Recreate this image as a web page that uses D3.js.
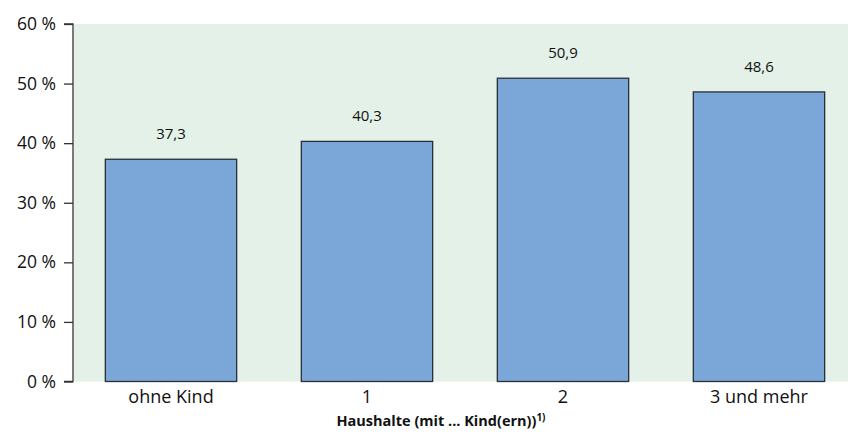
<!DOCTYPE html>
<html><head><meta charset="utf-8">
<script src="https://cdn.jsdelivr.net/npm/d3@7"></script>
<style>body{margin:0;background:#fff}svg{display:block;font-family:"Open Sans",sans-serif}</style>
</head><body>
<svg id="c" width="848" height="437"></svg>
<script>
const categories = ["ohne Kind", "1", "2", "3 und mehr"];
const values = [37.3, 40.3, 50.9, 48.6];
const yTicks = [0, 10, 20, 30, 40, 50, 60];
const valueLabels = ["37,3", "40,3", "50,9", "48,6"];

const svg = d3.select("#c");
const mLeft = 73, mTop = 24, mBottom = 381.5, mRight = 848;
const x = d3.scaleBand().domain(categories).range([73, 857]).paddingInner(0.33).paddingOuter(0.165);
const y = d3.scaleLinear().domain([0, 60]).range([mBottom, mTop]);

svg.append("rect").attr("x", mLeft + 1).attr("y", mTop).attr("width", mRight - mLeft - 1).attr("height", mBottom - mTop).attr("fill", "#e4f1e8");

svg.selectAll("rect.bar").data(values).enter().append("rect").attr("class", "bar")
  .attr("x", (d, i) => x(categories[i])).attr("width", x.bandwidth())
  .attr("y", d => y(d)).attr("height", d => y(0) - y(d))
  .attr("fill", "#7ba7d8").attr("stroke", "#2b2f36").attr("stroke-width", 1.3);

svg.selectAll("text.val").data(values).enter().append("text").attr("class", "val")
  .attr("x", (d, i) => x(categories[i]) + x.bandwidth() / 2).attr("y", d => y(d) - 20)
  .attr("text-anchor", "middle").attr("font-size", 15).attr("fill", "#111")
  .text((d, i) => valueLabels[i]);

const ya = svg.append("g").attr("transform", `translate(${mLeft},0)`)
  .call(d3.axisLeft(y).tickValues(yTicks).tickSize(9).tickPadding(8).tickFormat(d => d + " %"));
ya.select(".domain").attr("stroke", "#333").attr("stroke-width", 1.3).attr("d", `M-9,${mTop}H0V${mBottom}H-9`);
ya.selectAll(".tick line").attr("stroke", "#333").attr("stroke-width", 1.3);
ya.selectAll(".tick text").attr("font-size", 17.5).attr("fill", "#111").attr("font-family", '"Open Sans",sans-serif');

const xa = svg.append("g").attr("transform", `translate(0,${mBottom})`)
  .call(d3.axisBottom(x).tickSize(0).tickPadding(9));
xa.select(".domain").remove();
xa.selectAll(".tick text").attr("font-size", 18).attr("fill", "#111").attr("font-family", '"Open Sans",sans-serif');

const t = svg.append("text").attr("x", 441).attr("y", 426).attr("text-anchor", "middle")
  .attr("font-size", 14.5).attr("font-weight", "bold").attr("fill", "#111");
t.append("tspan").text("Haushalte (mit ... Kind(ern))");
t.append("tspan").attr("font-size", 10).attr("dy", -5).text("1)");
</script>
</body></html>
